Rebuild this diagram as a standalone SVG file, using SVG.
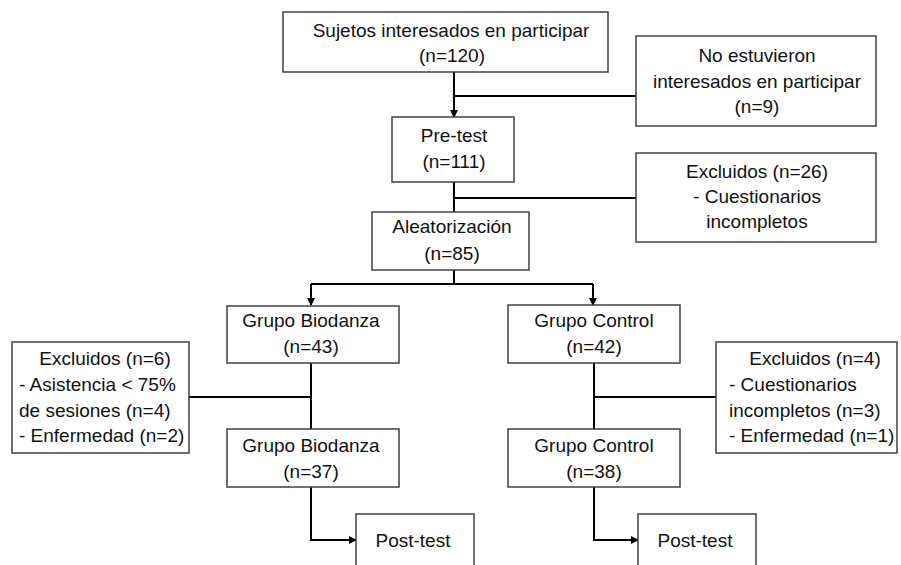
<svg xmlns="http://www.w3.org/2000/svg" width="901" height="565" viewBox="0 0 901 565">
<defs>
<style>
.box{fill:#fff;stroke:#404040;stroke-width:1.5}
.t{font-family:"Liberation Sans",Arial,sans-serif;font-size:19px;fill:#111}
.c{text-anchor:middle}
.ln{fill:none;stroke:#000;stroke-width:2}
</style>
<marker id="ah" viewBox="0 0 8 8" refX="7" refY="4" markerWidth="4" markerHeight="4" orient="auto" markerUnits="strokeWidth">
<path d="M0,0 L8,4 L0,8 Z" fill="#000"/>
</marker>
</defs>
<rect width="901" height="565" fill="#fff"/>
<g id="connectors">
<path class="ln" d="M454,72 V117" marker-end="url(#ah)"/>
<path class="ln" d="M454,96 H636"/>
<path class="ln" d="M454,182 V212"/>
<path class="ln" d="M454,198 H636"/>
<path class="ln" d="M454,270 V284"/>
<path class="ln" d="M311,284 H593"/>
<path class="ln" d="M311,284 V305" marker-end="url(#ah)"/>
<path class="ln" d="M593,284 V305" marker-end="url(#ah)"/>
<path class="ln" d="M311,363 V429"/>
<path class="ln" d="M189,397 H311"/>
<path class="ln" d="M594,363 V429"/>
<path class="ln" d="M594,397 H716"/>
<path class="ln" d="M311,487 V540 H356" marker-end="url(#ah)"/>
<path class="ln" d="M594,487 V540 H638" marker-end="url(#ah)"/>
</g>
<g id="n-sujetos">
<rect class="box" x="283" y="12" width="325" height="60"/>
<text class="t c" x="451" y="37">Sujetos interesados en participar</text>
<text class="t c" x="452" y="62">(n=120)</text>
</g>
<g id="n-noint">
<rect class="box" x="636" y="36" width="240" height="90"/>
<text class="t c" x="757" y="62">No estuvieron</text>
<text class="t c" x="757" y="88">interesados en participar</text>
<text class="t c" x="757" y="113">(n=9)</text>
</g>
<g id="n-pretest">
<rect class="box" x="392" y="117" width="122" height="65"/>
<text class="t c" x="454" y="142">Pre-test</text>
<text class="t c" x="454" y="168">(n=111)</text>
</g>
<g id="n-excl26">
<rect class="box" x="636" y="153" width="240" height="89"/>
<text class="t c" x="757" y="178">Excluidos (n=26)</text>
<text class="t c" x="757" y="203">- Cuestionarios</text>
<text class="t c" x="757" y="228">incompletos</text>
</g>
<g id="n-aleat">
<rect class="box" x="372" y="212" width="157" height="58"/>
<text class="t c" x="452" y="233">Aleatorización</text>
<text class="t c" x="452" y="260">(n=85)</text>
</g>
<g id="n-bio1">
<rect class="box" x="227" y="306" width="172" height="57"/>
<text class="t c" x="311" y="327">Grupo Biodanza</text>
<text class="t c" x="311" y="353">(n=43)</text>
</g>
<g id="n-ctrl1">
<rect class="box" x="508" y="305" width="172" height="58"/>
<text class="t c" x="594" y="327">Grupo Control</text>
<text class="t c" x="594" y="353">(n=42)</text>
</g>
<g id="n-excl6">
<rect class="box" x="12" y="342" width="177" height="111"/>
<text class="t c" x="105" y="365">Excluidos (n=6)</text>
<text class="t" x="19" y="391">- Asistencia &lt; 75%</text>
<text class="t" x="19" y="417">de sesiones (n=4)</text>
<text class="t" x="19" y="442">- Enfermedad (n=2)</text>
</g>
<g id="n-excl4">
<rect class="box" x="716" y="342" width="181" height="111"/>
<text class="t c" x="815" y="365">Excluidos (n=4)</text>
<text class="t" x="729" y="391">- Cuestionarios</text>
<text class="t" x="729" y="417">incompletos (n=3)</text>
<text class="t" x="729" y="442">- Enfermedad (n=1)</text>
</g>
<g id="n-bio2">
<rect class="box" x="227" y="429" width="172" height="58"/>
<text class="t c" x="311" y="452">Grupo Biodanza</text>
<text class="t c" x="311" y="478">(n=37)</text>
</g>
<g id="n-ctrl2">
<rect class="box" x="508" y="429" width="172" height="58"/>
<text class="t c" x="594" y="452">Grupo Control</text>
<text class="t c" x="594" y="478">(n=38)</text>
</g>
<g id="n-post1">
<rect class="box" x="356" y="514" width="118" height="60"/>
<text class="t c" x="413" y="547">Post-test</text>
</g>
<g id="n-post2">
<rect class="box" x="638" y="514" width="118" height="60"/>
<text class="t c" x="695" y="547">Post-test</text>
</g>
</svg>
